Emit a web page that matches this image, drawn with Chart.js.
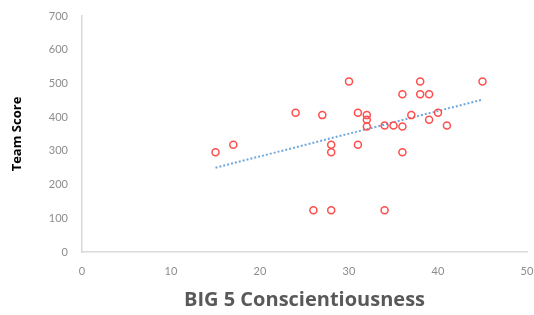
<!DOCTYPE html>
<html>
<head>
<meta charset="utf-8">
<script src="https://cdn.jsdelivr.net/npm/chart.js@4.4.1/dist/chart.umd.min.js"></script>
<style>
  html, body { margin: 0; padding: 0; background: #fff; }
  #wrap { width: 534px; height: 315px; position: relative; }
</style>
</head>
<body>
<div id="wrap"><canvas id="chart"></canvas></div>
<script>
// values
const conscientiousness = [15, 17, 24, 26, 27, 28, 28, 28, 30, 31, 31, 32, 32, 32, 34, 34, 35, 36, 36, 36, 37, 38, 38, 39, 39, 40, 41, 45];
const teamScore =         [296, 318, 413, 124, 406, 318, 296, 124, 506, 413, 318, 406, 392, 372, 375, 124, 375, 468, 372, 296, 406, 506, 468, 468, 392, 413, 375, 506];
const trendX = [15, 45];
const trendY = [250, 452];

const points = conscientiousness.map((x, i) => ({ x: x, y: teamScore[i] }));
const trend = trendX.map((x, i) => ({ x: x, y: trendY[i] }));

const tickFont = { family: 'Lato, "Open Sans", sans-serif', size: 11 };

new Chart(document.getElementById('chart'), {
    type: 'scatter',
    data: {
        datasets: [{
            label: 'Team Score',
            data: points,
            pointStyle: 'circle',
            pointRadius: 3.5,
            pointBorderWidth: 1.5,
            pointBorderColor: '#ff4d4d',
            pointBackgroundColor: 'rgba(255,255,255,0)',
            pointHoverRadius: 3.5
        }, {
            label: 'Linear',
            type: 'line',
            data: trend,
            borderColor: '#6fa8dc',
            borderWidth: 2,
            borderDash: [2, 2],
            pointRadius: 0,
            fill: false
        }]
    },
    options: {
        responsive: true,
        maintainAspectRatio: false,
        animation: false,
        layout: { padding: { left: 0, right: 7, top: 16, bottom: 0 } },
        plugins: {
            legend: { display: false },
            tooltip: { enabled: false }
        },
        scales: {
            x: {
                type: 'linear',
                min: 0,
                max: 50,
                ticks: { stepSize: 10, color: '#8c8c8c', font: tickFont, padding: 13 },
                grid: { display: false, drawTicks: false },
                border: { display: true, color: '#d9d9d9', width: 1.5 },
                title: {
                    display: true,
                    text: 'BIG 5 Conscientiousness',
                    color: '#595959',
                    font: { family: '"Open Sans", Lato, sans-serif', size: 20, weight: 'bold' },
                    padding: { top: 4, bottom: 3 }
                },
                afterFit: (scale) => {
                    scale.height = 63;
                    scale.paddingLeft = 0;
                    scale.paddingRight = 0;
                }
            },
            y: {
                min: 0,
                max: 700,
                ticks: { stepSize: 100, color: '#8c8c8c', font: tickFont, padding: 14 },
                grid: { display: false, drawTicks: false },
                border: { display: true, color: '#d9d9d9', width: 1.5 },
                title: {
                    display: true,
                    text: 'Team Score',
                    color: '#000',
                    font: { family: '"Open Sans", Lato, sans-serif', size: 13, weight: 'bold' },
                    padding: { top: 9, bottom: 0 }
                },
                afterFit: (scale) => {
                    scale.width = 82;
                    scale.paddingTop = 0;
                    scale.paddingBottom = 0;
                }
            }
        }
    }
});
</script>
</body>
</html>
